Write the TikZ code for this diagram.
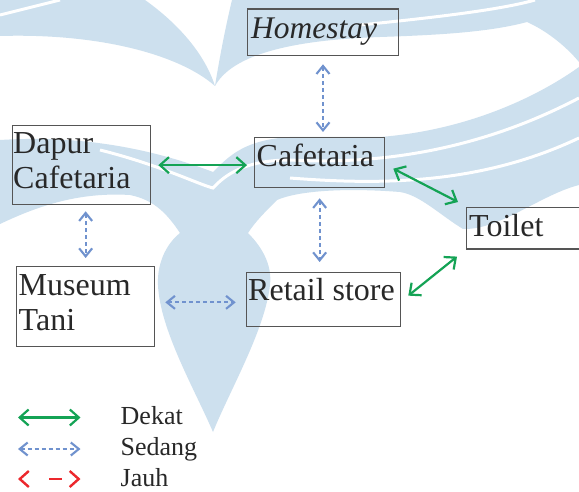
\documentclass[tikz,border=0pt]{standalone}
\usepackage{fontspec}
\setmainfont{Liberation Serif}
\usetikzlibrary{arrows.meta,calc}
\definecolor{wm}{RGB}{205,224,238}
\definecolor{dgreen}{RGB}{20,163,85}
\definecolor{dblue}{RGB}{112,146,206}
\definecolor{dred}{RGB}{236,40,45}
\definecolor{txt}{RGB}{40,40,40}
\definecolor{boxc}{RGB}{85,85,85}
\begin{document}
\begin{tikzpicture}[x=1pt,y=-1pt,
  box/.style={draw=boxc, line width=1.3pt, rectangle, inner sep=0pt, anchor=north west},
  lbl/.style={anchor=base west, inner sep=0pt, text=txt, align=left, font=\fontsize{32}{35}\selectfont},
  leg/.style={anchor=base west, inner sep=0pt, text=txt, font=\fontsize{26}{30}\selectfont},
  near/.style={draw=dgreen, line width=2.2pt, {Straight Barb[length=9pt,width=16pt]}-{Straight Barb[length=9pt,width=16pt]}},
  mid/.style={draw=dblue, line width=2.1pt, dash pattern=on 4pt off 3pt, {Straight Barb[length=8pt,width=13pt]}-{Straight Barb[length=8pt,width=13pt]}},
  far/.style={draw=dred, line width=2.4pt, dash pattern=on 0pt off 28pt on 13pt off 40pt, {Straight Barb[length=9pt,width=16pt]}-{Straight Barb[length=9pt,width=16pt]}},
  wmline/.style={draw=white, line width=3pt}
]
\useasboundingbox (0,0) rectangle (579,492);
\fill[white] (0,0) rectangle (579,492);
% watermark
\fill[wm] (0,0) -- (145,0) .. controls (180,25) and (205,55) .. (215,86) .. controls (180,55) and (100,33) .. (0,36) -- cycle;
\fill[wm] (232,0) -- (579,0) -- (579,62) .. controls (565,45) and (545,30) .. (527,22) .. controls (490,32) and (440,35) .. (380,37) .. controls (290,40) and (232,55) .. (215,86) .. controls (220,55) and (226,25) .. (232,0) -- cycle;
\fill[wm] (0,140) .. controls (80,135) and (150,148) .. (213,172) .. controls (230,155) and (245,140) .. (290,137) -- (380,137) .. controls (470,130) and (540,95) .. (579,67) -- (579,185) .. controls (540,195) and (500,230) .. (463,229) .. controls (440,215) and (420,195) .. (400,192) .. controls (350,188) and (300,190) .. (277,200) .. controls (265,212) and (255,222) .. (248,233) .. controls (265,250) and (272,268) .. (270,285) .. controls (265,330) and (230,390) .. (213,432) .. controls (195,390) and (160,330) .. (158,285) .. controls (157,265) and (165,245) .. (180,233) .. controls (168,215) and (155,200) .. (130,195) .. controls (80,192) and (40,205) .. (0,224) -- cycle;
\draw[wmline] (100,150) .. controls (160,165) and (200,185) .. (213,188) .. controls (225,175) and (245,160) .. (290,160) .. controls (380,165) and (480,150) .. (579,98);
\draw[wmline] (290,178) .. controls (380,185) and (480,185) .. (579,138);
\draw[wmline] (360,25) .. controls (430,18) and (500,10) .. (535,0);
\draw[wmline] (0,15) .. controls (20,10) and (40,5) .. (60,0);
% boxes
\node[box, minimum width=151.3pt, minimum height=46.7pt] (home) at (246.7,8.3) {};
\node[box, minimum width=130pt, minimum height=50pt] (caf) at (254,137) {};
\node[box, minimum width=138.3pt, minimum height=79pt] (dapur) at (11.7,125) {};
\node[box, minimum width=138pt, minimum height=80pt] (museum) at (16,266) {};
\node[box, minimum width=154.3pt, minimum height=54pt] (retail) at (245.7,272) {};
\node[box, minimum width=130pt, minimum height=41.3pt] (toilet) at (466,207) {};
% texts
\node[lbl, font=\fontsize{31.5}{35}\selectfont\itshape] (thome) at (251,39) {Homestay};
\node[lbl] (tcaf) at (256.5,167) {Cafetaria};
\node[lbl] (tdapur) at (13,189) {Dapur\\Cafetaria};
\node[lbl] (tmuseum) at (18.5,330) {Museum\\Tani};
\node[lbl] (tretail) at (248,301) {Retail store};
\node[lbl] (ttoilet) at (469,236.7) {Toilet};
% connectors
\draw[near, shorten <=7pt, shorten >=7pt] (dapur.east) -- (caf.west |- dapur.east);
\draw[mid, shorten <=8pt, shorten >=5pt] (home.south) -- (home.south |- caf.north);
\draw[mid, shorten <=10pt, shorten >=10pt] (caf.south) -- (caf.south |- retail.north);
\draw[mid, shorten <=6pt, shorten >=8pt] (dapur.south -| museum.north) -- (museum.north);
\draw[mid, shorten <=10pt, shorten >=10pt] ($(museum.east |- retail.west)+(0,2.7)$) -- ($(retail.west)+(0,2.7)$);
\draw[near] ($(caf.east)+(8,6)$) -- ($(toilet.north west)+(-8,-5)$);
\draw[near] ($(retail.east)+(7,-4)$) -- ($(toilet.south west)+(-9,7)$);
% legend
\coordinate (g1) at (18,417.5);
\coordinate (g2) at (80.5,417.5);
\coordinate (b1) at (18,449);
\coordinate (b2) at (80.5,449);
\coordinate (r1) at (18,479);
\coordinate (r2) at (80.5,479);
\draw[near] (g1) -- (g2);
\draw[mid] (b1) -- (b2);
\draw[far] (r1) -- (r2);
\node[leg] (ldekat) at (120.5,424) {Dekat};
\node[leg] (lsedang) at (120.5,455) {Sedang};
\node[leg] (ljauh) at (120.5,486.5) {Jauh};
\end{tikzpicture}
\end{document}
